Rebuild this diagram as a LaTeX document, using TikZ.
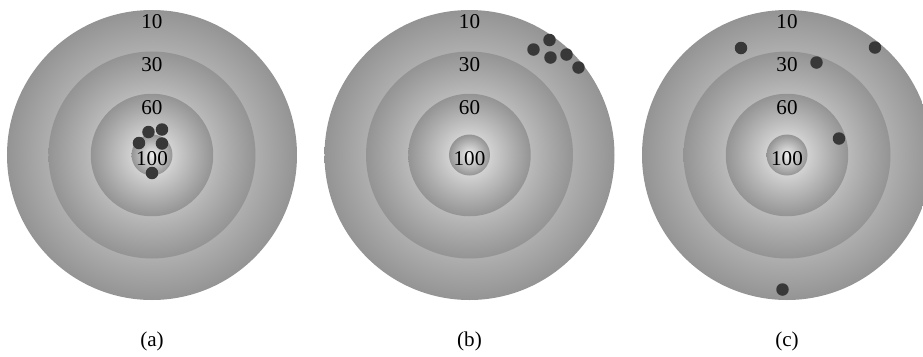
\documentclass[tikz,border=0pt]{standalone}
\usepackage{fontspec}
\setmainfont{Liberation Serif}
\usetikzlibrary{positioning,calc}
\tikzset{
  ring/.style={circle, inner sep=0pt, shading=radial, inner color=black!6, outer color=black!42},
  score/.style={font=\fontsize{12}{14}\selectfont, inner sep=0pt},
  hit/.style={circle, fill=black!78, minimum size=0.25cm, inner sep=0pt},
  sublabel/.style={font=\fontsize{12}{14}\selectfont, inner sep=0pt},
}

\begin{document}
\begin{tikzpicture}
\useasboundingbox (-3.04,-4.02) rectangle (15.42,3.10);
% three targets
\foreach \t/\x in {a/0,b/6.35,c/12.7}{
  \coordinate (c-\t) at (\x,0);
  \node[ring, minimum size=5.8cm] (r10-\t) at (c-\t) {};
  \node[ring, minimum size=4.14cm] (r30-\t) at (c-\t) {};
  \node[ring, minimum size=2.45cm] (r60-\t) at (c-\t) {};
  \node[ring, minimum size=0.82cm] (r100-\t) at (c-\t) {};
  \node[score] (s10-\t) at ($(c-\t)+(0,2.66)$) {10};
  \node[score] (s30-\t) at ($(c-\t)+(0,1.81)$) {30};
  \node[score] (s60-\t) at ($(c-\t)+(0,0.95)$) {60};
  \node[score] (s100-\t) at ($(c-\t)+(0,-0.08)$) {100};
  \node[sublabel] (lab-\t) at ($(c-\t)+(0,-3.72)$) {(\t)};
}
% shots (a)
\node[hit] (a1) at ($(c-a)+(-0.07,0.46)$) {};
\node[hit] (a2) at ($(c-a)+(0.20,0.51)$) {};
\node[hit] (a3) at ($(c-a)+(-0.26,0.24)$) {};
\node[hit] (a4) at ($(c-a)+(0.20,0.23)$) {};
\node[hit] (a5) at ($(c-a)+(0.00,-0.36)$) {};
% shots (b)
\node[hit] (b1) at ($(c-b)+(1.60,2.30)$) {};
\node[hit] (b2) at ($(c-b)+(1.28,2.11)$) {};
\node[hit] (b3) at ($(c-b)+(1.62,1.95)$) {};
\node[hit] (b4) at ($(c-b)+(1.94,2.01)$) {};
\node[hit] (b5) at ($(c-b)+(2.18,1.75)$) {};
% shots (c)
\node[hit] (c1) at ($(c-c)+(-0.92,2.14)$) {};
\node[hit] (c2) at ($(c-c)+(1.76,2.15)$) {};
\node[hit] (c3) at ($(c-c)+(0.59,1.85)$) {};
\node[hit] (c4) at ($(c-c)+(1.04,0.33)$) {};
\node[hit] (c5) at ($(c-c)+(-0.09,-2.69)$) {};
\end{tikzpicture}
\end{document}
